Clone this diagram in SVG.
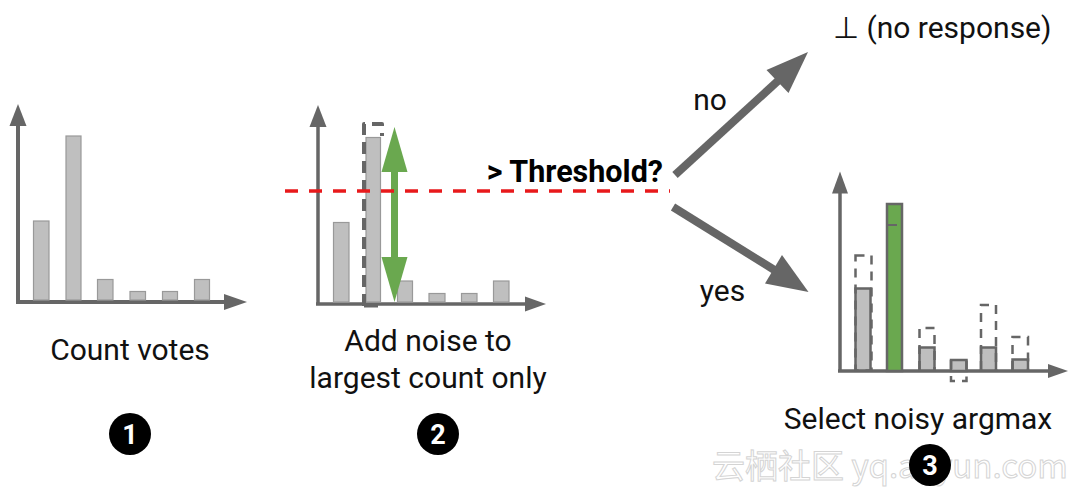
<svg xmlns="http://www.w3.org/2000/svg" width="1080" height="494" viewBox="0 0 1080 494">
<defs>
<style>
.ax{stroke:#666;stroke-width:4;fill:none}
.ah{fill:#666}
.bar{fill:#bfbfbf;stroke:#999;stroke-width:1.2}
.bar3{fill:#bfbfbf;stroke:#666;stroke-width:2.5}
.dash3{fill:none;stroke:#666;stroke-width:2.5;stroke-dasharray:9 7}
.lbl{font-family:Roboto,"Liberation Sans",sans-serif;font-size:30px;fill:#111}
.num{font-family:Roboto,"Liberation Sans",sans-serif;font-size:27px;font-weight:bold;fill:#fff;text-anchor:middle}
.arr{stroke:#666;stroke-width:8;fill:none}
</style>
</defs>
<rect width="1080" height="494" fill="#fff"/>

<g id="chart1">
<line class="ax" x1="18" y1="120" x2="18" y2="302"/>
<polygon class="ah" points="18,104 9.5,126 26.5,126"/>
<line class="ax" x1="16" y1="302" x2="228" y2="302"/>
<polygon class="ah" points="247,302 224,294 224,310"/>
<rect class="bar" x="33.5" y="221" width="15.5" height="79"/>
<rect class="bar" x="66" y="136" width="15" height="164"/>
<rect class="bar" x="97.5" y="279.5" width="15.5" height="20.5"/>
<rect class="bar" x="130" y="291.5" width="15.5" height="8.5"/>
<rect class="bar" x="162.5" y="291.5" width="15" height="8.5"/>
<rect class="bar" x="194.5" y="279.5" width="15" height="20.5"/>
<text class="lbl" x="130" y="360" text-anchor="middle">Count votes</text>
</g>

<g id="chart2">
<line class="ax" x1="318" y1="122" x2="318" y2="304" style="stroke-width:3.5"/>
<polygon class="ah" points="318,105 309.5,127 326.5,127"/>
<line class="ax" x1="316" y1="304" x2="527" y2="304" style="stroke-width:3.5"/>
<polygon class="ah" points="546,304 525,296.5 525,311.5"/>
<rect class="bar" x="333.5" y="222.5" width="15.5" height="79.5"/>
<rect class="bar" x="366" y="137.5" width="14.5" height="164.5"/>
<rect class="bar" x="397.5" y="281" width="15" height="21"/>
<rect class="bar" x="429" y="293.5" width="16" height="8.5"/>
<rect class="bar" x="461.5" y="293.5" width="15.5" height="8.5"/>
<rect class="bar" x="493.5" y="281" width="15.5" height="21"/>
<path d="M364,306 L364,124 L382,124 L382,136" fill="none" stroke="#666" stroke-width="4" stroke-dasharray="12 7" stroke-linejoin="round"/>
<line x1="364" y1="306" x2="378" y2="306" stroke="#666" stroke-width="3"/>
<text class="lbl" x="428" y="351" text-anchor="middle">Add noise to</text>
<text class="lbl" x="428" y="388" text-anchor="middle">largest count only</text>
</g>

<g id="noise-arrow">
<line x1="394.5" y1="165" x2="394.5" y2="262" stroke="#6aa84f" stroke-width="7"/>
<polygon points="394.5,127 381.5,172 407.5,172" fill="#6aa84f"/>
<polygon points="394.5,302 381.5,257 407.5,257" fill="#6aa84f"/>
</g>

<g id="threshold">
<line x1="285" y1="191" x2="670" y2="191" stroke="#e8191b" stroke-width="3.5" stroke-dasharray="13 11"/>
<text x="663" y="182" text-anchor="end" style="font-family:Roboto,'Liberation Sans',sans-serif;font-size:30.5px;font-weight:bold;fill:#000">&gt; Threshold?</text>
</g>

<g id="connectors">
<line class="arr" x1="675" y1="175" x2="780" y2="79"/>
<polygon class="ah" points="808,52 766.5,70 788.5,93"/>
<line class="arr" x1="673" y1="207" x2="776" y2="271"/>
<polygon class="ah" points="808.5,292 782,255 765,283.5"/>
<text class="lbl" x="710" y="110" text-anchor="middle">no</text>
<text class="lbl" x="722.5" y="301" text-anchor="middle">yes</text>
</g>

<g id="no-response">
<text class="lbl" x="833" y="38">⊥ (no response)</text>
</g>

<g id="chart3">
<line class="ax" x1="840" y1="188" x2="840" y2="371" style="stroke-width:3.5"/>
<polygon class="ah" points="840,171.5 832,193.5 848,193.5"/>
<line class="ax" x1="838" y1="371" x2="1050" y2="371" style="stroke-width:3.5"/>
<polygon class="ah" points="1068,371 1048,364 1048,378"/>
<rect class="bar3" x="855.5" y="288.5" width="15" height="82"/>
<rect class="dash3" x="855.5" y="255.5" width="16" height="115"/>
<rect x="887" y="204" width="15" height="167" fill="#6aa84f" stroke="#666" stroke-width="2.5"/>
<line x1="887" y1="225" x2="897" y2="225" stroke="#666" stroke-width="2"/>
<rect class="bar3" x="919.5" y="347.5" width="15" height="23"/>
<path class="dash3" d="M919.5,370 L919.5,328 L934.5,328 L934.5,370"/>
<rect class="bar3" x="951" y="360" width="15.5" height="11"/>
<path class="dash3" d="M951,360 L951,381 L966.5,381 L966.5,360"/>
<rect class="bar3" x="981" y="347.5" width="15" height="23"/>
<path class="dash3" d="M981,370 L981,305 L996,305 L996,370"/>
<rect class="bar3" x="1012.5" y="359.5" width="15.5" height="11"/>
<path class="dash3" d="M1012.5,370 L1012.5,337 L1028,337 L1028,370"/>
<text class="lbl" x="918" y="429" text-anchor="middle">Select noisy argmax</text>
</g>

<g id="watermark">
<text x="712" y="478" style="font-family:'Noto Sans CJK SC','Liberation Sans',sans-serif;font-size:33px;fill:#ffffff;fill-opacity:0.55;stroke:#d4d4d4;stroke-width:1">云栖社区 yq.aliyun.com</text>
</g>

<g id="step1">
<circle cx="130" cy="434" r="21" fill="#000"/>
<text class="num" x="130" y="444">1</text>
</g>
<g id="step2">
<circle cx="438" cy="434" r="21" fill="#000"/>
<text class="num" x="438" y="444">2</text>
</g>
<g id="step3">
<circle cx="930" cy="465" r="21" fill="#000"/>
<text class="num" x="930" y="475">3</text>
</g>
</svg>
